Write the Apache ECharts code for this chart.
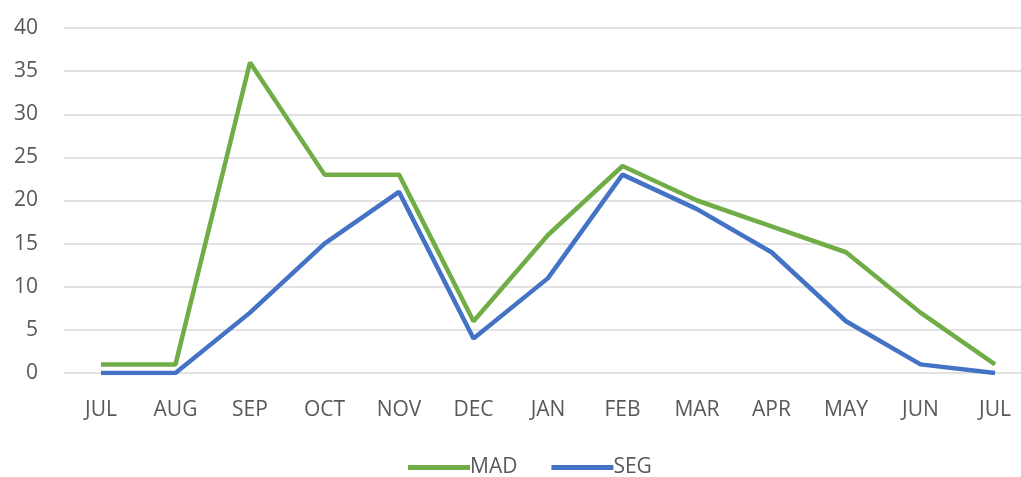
<!DOCTYPE html>
<html><head><meta charset="utf-8">
<script src="https://cdn.jsdelivr.net/npm/echarts@6/dist/echarts.min.js"></script>
<style>html,body{margin:0;padding:0;background:#fff}#c{width:1021px;height:477px}</style>
</head><body><div id="c"></div>
<script>
const categories = ['JUL','AUG','SEP','OCT','NOV','DEC','JAN','FEB','MAR','APR','MAY','JUN','JUL'];
const mad = [1,1,36,23,23,6,16,24,20,17,14,7,1];
const seg = [0,0,7,15,21,4,11,23,19,14,6,1,0];
const yTicks = {min:0, max:40, interval:5};
const font = '"Open Sans", sans-serif';
const txt = {color:'#595959', fontFamily:font, fontSize:21};
const chart = echarts.init(document.getElementById('c'));
chart.setOption({
  animation:false,
  grid:[
    {left:64, top:28, right:0, height:345, containLabel:false},
    {left:101, top:28, right:26, height:345, containLabel:false}
  ],
  legend:{left:408, top:457, padding:0, itemGap:34, itemWidth:62, itemHeight:5, icon:'rect',
    textStyle:Object.assign({padding:[0,0,0,-5]}, txt),
    data:['MAD','SEG']},
  xAxis:[
    {type:'category', gridIndex:0, data:categories, show:false},
    {type:'category', gridIndex:1, data:categories, boundaryGap:false,
      axisLine:{show:false}, axisTick:{show:false}, splitLine:{show:false},
      axisLabel:Object.assign({margin:27, interval:0}, txt)}
  ],
  yAxis:[
    {type:'value', gridIndex:0, min:yTicks.min, max:yTicks.max, interval:yTicks.interval,
      axisLine:{show:false}, axisTick:{show:false},
      splitLine:{lineStyle:{color:'#d9d9d9', width:1.5}},
      axisLabel:Object.assign({margin:26}, txt)},
    {type:'value', gridIndex:1, min:yTicks.min, max:yTicks.max, interval:yTicks.interval, show:false,
      splitLine:{show:false}}
  ],
  series:[
    {name:'MAD', type:'line', xAxisIndex:1, yAxisIndex:1, data:mad, symbol:'none', lineStyle:{color:'#70AD47', width:4.5}, itemStyle:{color:'#70AD47'}},
    {name:'SEG', type:'line', xAxisIndex:1, yAxisIndex:1, data:seg, symbol:'none', lineStyle:{color:'#4472C4', width:4.5}, itemStyle:{color:'#4472C4'}}
  ]
});
</script></body></html>
